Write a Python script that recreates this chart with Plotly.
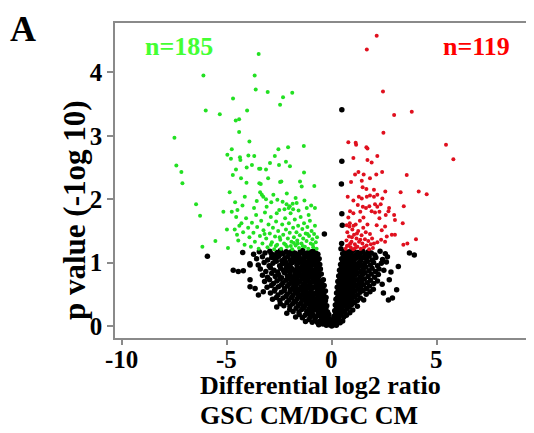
import plotly.graph_objects as go

# ---- data (log2 ratio, -log10 p) ----
green_points = [
    (-7.49, 2.97), (-7.40, 2.53), (-7.16, 2.43), (-7.11, 2.25), (-6.11, 3.95), (-6.00, 3.40),
    (-6.46, 1.92), (-6.27, 1.74), (-6.16, 1.25), (-5.54, 1.34), (-5.33, 3.34), (-5.16, 1.80),
    (-3.48, 4.29), (-3.67, 3.95), (-3.62, 3.73), (-3.05, 3.69), (-1.88, 3.68), (-2.32, 3.61),
    (-2.46, 3.49), (-4.70, 3.59), (-4.03, 3.40), (-4.57, 3.24), (-4.41, 3.26), (-4.41, 3.06),
    (-3.92, 2.91), (-4.76, 2.79), (-2.54, 2.79), (-2.08, 2.82), (-1.33, 2.84),
    (-4.97, 2.70), (-4.80, 2.64), (-4.37, 2.66), (-4.35, 2.62), (-3.97, 2.69), (-3.69, 2.68),
    (-4.71, 2.38), (-4.56, 2.47), (-4.05, 2.50), (-3.80, 2.54), (-3.46, 2.48), (-3.40, 2.48),
    (-3.13, 2.47), (-2.94, 2.57), (-2.71, 2.68), (-2.51, 2.54), (-2.18, 2.59), (-1.99, 2.52),
    (-4.32, 2.33), (-4.06, 2.26), (-3.45, 2.25), (-3.38, 2.24), (-2.46, 2.27), (-2.40, 2.28),
    (-3.03, 2.33), (-1.51, 2.28), (-1.43, 2.20), (-1.32, 2.42), (-4.86, 2.11), (-4.60, 1.95),
    (-4.49, 1.83), (-3.41, 2.11), (-3.33, 2.07), (-3.26, 2.04), (-3.13, 2.00), (-4.14, 2.04),
    (-3.57, 1.97), (-2.78, 2.07), (-2.59, 1.99), (-2.14, 2.09), (-2.15, 1.92), (-2.00, 1.89),
    (-1.86, 1.93), (-2.25, 1.84), (-2.05, 1.86), (-1.84, 1.84), (-1.67, 1.94), (-1.19, 1.86),
    (-0.80, 1.86), (-0.83, 2.21), (-4.76, 1.80), (-4.40, 1.58),
    (-4.62, 1.52), (-4.51, 1.44), (-4.45, 1.35), (-4.30, 1.62), (-4.22, 1.48), (-4.15, 1.28),
    (-4.08, 1.70), (-3.98, 1.55), (-3.92, 1.40), (-3.85, 1.25), (-3.80, 1.63), (-3.73, 1.47),
    (-3.66, 1.33), (-3.60, 1.75), (-3.55, 1.56), (-3.48, 1.22), (-3.42, 1.42), (-3.36, 1.66),
    (-3.30, 1.30), (-3.25, 1.51), (-3.18, 1.79), (-3.12, 1.38), (-3.06, 1.24), (-3.01, 1.60),
    (-2.95, 1.46), (-2.90, 1.72), (-2.85, 1.32), (-2.80, 1.55), (-2.74, 1.21), (-2.70, 1.41),
    (-2.65, 1.65), (-2.60, 1.28), (-2.55, 1.50), (-2.50, 1.83), (-2.45, 1.36), (-2.41, 1.22),
    (-2.36, 1.60), (-2.31, 1.44), (-2.27, 1.30), (-2.22, 1.70), (-2.18, 1.52), (-2.13, 1.25),
    (-2.09, 1.38), (-2.04, 1.62), (-2.00, 1.47), (-1.96, 1.78), (-1.92, 1.33), (-1.88, 1.21),
    (-1.84, 1.55), (-1.80, 1.40), (-1.76, 1.68), (-1.72, 1.27), (-1.68, 1.48), (-1.64, 1.35),
    (-1.60, 1.58), (-1.56, 1.23), (-1.52, 1.43), (-1.48, 1.72), (-1.44, 1.30), (-1.40, 1.53),
    (-1.36, 1.38), (-1.32, 1.62), (-1.28, 1.25), (-1.24, 1.46), (-1.20, 1.34), (-1.16, 1.56),
    (-1.12, 1.22), (-1.08, 1.42), (-1.04, 1.66), (-1.00, 1.30), (-0.96, 1.50), (-0.92, 1.37),
    (-0.88, 1.24), (-0.84, 1.45), (-0.80, 1.58), (-0.76, 1.32), (-0.72, 1.22), (-0.70, 1.40),
    (-4.94, 1.23), (-4.99, 1.52), (-4.55, 1.72), (-3.10, 1.88), (-2.88, 1.95), (-2.62, 1.78),
    (-1.58, 1.82), (-1.10, 1.75), (-0.98, 1.90), (-3.70, 1.86), (-4.25, 1.90), (-2.34, 1.96),
    (-1.30, 1.98), (-1.72, 2.02), (-2.20, 1.28), (-1.95, 1.26), (-1.62, 1.30), (-1.38, 1.26),
    (-2.66, 1.26), (-3.20, 1.45), (-2.48, 1.40), (-1.15, 1.45), (-0.90, 1.28), (-1.80, 1.31),
    (-2.90, 1.28),
]

red_points = [
    (2.14, 4.58), (1.67, 4.36), (2.44, 3.70), (2.97, 3.33), (3.81, 3.38), (2.46, 3.05),
    (5.44, 2.86), (5.79, 2.63), (0.79, 2.90), (1.14, 2.89), (1.16, 2.86), (1.65, 2.82),
    (1.70, 2.80), (2.17, 2.68), (1.03, 2.65), (1.70, 2.62), (1.90, 2.58), (1.11, 2.39),
    (1.27, 2.43), (1.52, 2.39), (2.12, 2.39), (2.40, 2.43), (3.57, 2.38), (0.92, 2.27),
    (1.43, 2.29), (1.82, 2.33), (1.47, 2.19), (1.65, 2.16), (2.01, 2.15), (2.55, 2.12),
    (3.28, 2.11), (4.14, 2.12), (4.52, 2.08), (0.76, 2.04), (1.03, 1.98), (1.29, 2.04),
    (1.43, 2.01), (1.67, 2.04), (1.82, 2.06), (2.01, 2.04), (2.17, 2.07), (2.41, 2.01),
    (1.24, 1.91), (1.48, 1.88), (1.63, 1.86), (1.79, 1.89), (2.06, 1.92), (2.17, 1.88),
    (2.33, 1.92), (2.73, 1.86), (2.70, 1.81), (3.43, 1.89), (0.87, 1.81), (1.03, 1.78),
    (1.36, 1.80), (1.51, 1.71), (1.90, 1.81), (2.06, 1.79), (2.27, 1.80), (2.27, 1.70),
    (2.57, 1.75), (2.97, 1.75), (3.01, 1.67), (3.38, 1.62), (0.79, 1.71), (0.71, 1.59),
    (0.84, 1.57), (2.14, 1.59), (2.38, 1.51), (2.54, 1.57), (2.62, 1.41), (2.86, 1.44),
    (3.01, 1.44), (2.35, 1.36), (2.54, 1.33), (3.41, 1.28), (3.60, 1.30), (4.01, 1.37),
    (2.01, 1.30), (2.17, 1.32),
    (0.66, 1.22), (0.70, 1.35), (0.74, 1.48), (0.78, 1.27), (0.82, 1.41), (0.86, 1.62),
    (0.90, 1.24), (0.94, 1.33), (0.98, 1.52), (1.02, 1.21), (1.06, 1.44), (1.10, 1.29),
    (1.14, 1.60), (1.18, 1.38), (1.22, 1.25), (1.26, 1.50), (1.30, 1.33), (1.34, 1.66),
    (1.38, 1.22), (1.42, 1.43), (1.46, 1.30), (1.50, 1.55), (1.54, 1.24), (1.58, 1.37),
    (1.62, 1.48), (1.66, 1.27), (1.70, 1.60), (1.74, 1.34), (1.78, 1.21), (1.82, 1.45),
    (1.86, 1.29), (1.92, 1.38), (1.96, 1.23), (0.72, 1.26), (0.96, 1.40), (1.20, 1.46),
    (1.04, 1.58), (0.88, 1.30), (1.12, 1.23), (1.36, 1.36),
]

black_points = [
    # outliers
    (-5.92, 1.10), (-4.24, 1.16), (-3.89, 0.96), (0.48, 3.41), (0.48, 2.60), (0.46, 2.24),
    (0.48, 1.77), (0.50, 1.59), (-0.35, 1.45), (0.47, 1.30), (0.44, 1.22),
    # left arm
    (-3.72, 1.13), (-3.45, 1.17), (-3.18, 1.15), (-2.95, 1.18), (-2.78, 1.12), (-2.60, 1.16),
    (-2.44, 1.19), (-2.31, 1.14), (-2.17, 1.17), (-2.02, 1.13), (-1.90, 1.18), (-1.76, 1.15),
    (-1.63, 1.12), (-1.50, 1.17), (-1.38, 1.19), (-1.25, 1.14), (-1.12, 1.16), (-1.00, 1.12),
    (-0.88, 1.18), (-0.76, 1.15), (-0.66, 1.13), (-2.88, 1.14), (-1.84, 1.12), (-1.30, 1.13),
    (-0.95, 1.17),
    (-3.58, 1.06), (-3.30, 1.09), (-3.05, 1.04), (-2.86, 1.08), (-2.70, 1.05), (-2.52, 1.10),
    (-2.38, 1.03), (-2.24, 1.07), (-2.10, 1.09), (-1.97, 1.04), (-1.83, 1.08), (-1.70, 1.06),
    (-1.57, 1.10), (-1.44, 1.03), (-1.32, 1.07), (-1.19, 1.09), (-1.06, 1.05), (-0.94, 1.08),
    (-0.82, 1.04), (-0.70, 1.09), (-0.60, 1.06), (-2.62, 1.08), (-1.48, 1.06), (-0.88, 1.10),
    (-3.90, 0.98), (-3.50, 0.96), (-3.22, 1.00), (-2.98, 0.95), (-2.80, 0.99), (-2.64, 1.02),
    (-2.48, 0.95), (-2.34, 0.98), (-2.20, 1.01), (-2.06, 0.94), (-1.93, 0.99), (-1.80, 1.02),
    (-1.66, 0.96), (-1.54, 1.00), (-1.41, 0.94), (-1.28, 0.98), (-1.16, 1.01), (-1.03, 0.95),
    (-0.91, 0.99), (-0.79, 0.96), (-0.67, 1.01), (-0.57, 0.97), (-2.12, 0.97), (-1.23, 0.95),
    (-0.73, 0.94),
    (-4.69, 0.88), (-4.45, 0.86), (-4.21, 0.87), (-3.40, 0.90), (-3.14, 0.86), (-2.92, 0.92),
    (-2.75, 0.88), (-2.58, 0.85), (-2.43, 0.91), (-2.29, 0.87), (-2.15, 0.93), (-2.01, 0.86),
    (-1.88, 0.90), (-1.75, 0.85), (-1.62, 0.92), (-1.49, 0.88), (-1.36, 0.91), (-1.23, 0.86),
    (-1.11, 0.90), (-0.99, 0.93), (-0.87, 0.87), (-0.75, 0.91), (-0.64, 0.86), (-0.54, 0.90),
    (-1.95, 0.92), (-1.05, 0.86),
    (-3.89, 0.73), (-3.30, 0.80), (-3.06, 0.77), (-2.86, 0.83), (-2.69, 0.78), (-2.53, 0.81),
    (-2.39, 0.76), (-2.25, 0.84), (-2.11, 0.79), (-1.98, 0.82), (-1.85, 0.77), (-1.72, 0.81),
    (-1.59, 0.84), (-1.46, 0.78), (-1.34, 0.82), (-1.21, 0.76), (-1.09, 0.80), (-0.97, 0.83),
    (-0.85, 0.77), (-0.73, 0.81), (-0.62, 0.78), (-0.50, 0.82), (-1.66, 0.76), (-0.91, 0.84),
    (-3.20, 0.70), (-2.96, 0.73), (-2.78, 0.67), (-2.61, 0.71), (-2.46, 0.74), (-2.32, 0.68),
    (-2.18, 0.72), (-2.04, 0.66), (-1.91, 0.70), (-1.78, 0.73), (-1.65, 0.67), (-1.52, 0.71),
    (-1.40, 0.74), (-1.28, 0.68), (-1.16, 0.72), (-1.04, 0.66), (-0.92, 0.70), (-0.81, 0.73),
    (-0.70, 0.67), (-0.59, 0.71), (-0.48, 0.68), (-0.40, 0.73), (-2.08, 0.74), (-1.33, 0.66),
    (-3.89, 0.62), (-3.65, 0.59), (-3.08, 0.61), (-2.88, 0.64), (-2.70, 0.58), (-2.54, 0.62),
    (-2.39, 0.65), (-2.25, 0.59), (-2.11, 0.63), (-1.97, 0.57), (-1.84, 0.61), (-1.71, 0.64),
    (-1.58, 0.58), (-1.46, 0.62), (-1.34, 0.65), (-1.22, 0.59), (-1.10, 0.63), (-0.98, 0.57),
    (-0.87, 0.61), (-0.76, 0.64), (-0.65, 0.58), (-0.54, 0.62), (-0.44, 0.60), (-0.36, 0.64),
    (-3.49, 0.49), (-3.26, 0.54), (-2.92, 0.52), (-2.73, 0.55), (-2.56, 0.49), (-2.40, 0.53),
    (-2.26, 0.56), (-2.12, 0.50), (-1.98, 0.54), (-1.85, 0.48), (-1.72, 0.52), (-1.59, 0.55),
    (-1.47, 0.49), (-1.35, 0.53), (-1.23, 0.56), (-1.11, 0.50), (-1.00, 0.54), (-0.89, 0.48),
    (-0.78, 0.52), (-0.68, 0.55), (-0.58, 0.49), (-0.48, 0.53), (-0.38, 0.51), (-0.30, 0.55),
    (-2.82, 0.42), (-2.64, 0.45), (-2.47, 0.40), (-2.32, 0.44), (-2.18, 0.47), (-2.04, 0.41),
    (-1.91, 0.45), (-1.78, 0.39), (-1.65, 0.43), (-1.53, 0.46), (-1.41, 0.40), (-1.29, 0.44),
    (-1.17, 0.47), (-1.06, 0.41), (-0.95, 0.45), (-0.84, 0.39), (-0.74, 0.43), (-0.64, 0.46),
    (-0.54, 0.40), (-0.45, 0.44), (-0.36, 0.41), (-0.27, 0.45),
    (-2.62, 0.30), (-2.45, 0.35), (-2.28, 0.32), (-2.13, 0.37), (-1.99, 0.31), (-1.86, 0.35),
    (-1.73, 0.38), (-1.60, 0.32), (-1.48, 0.36), (-1.36, 0.30), (-1.24, 0.34), (-1.13, 0.37),
    (-1.02, 0.31), (-0.91, 0.35), (-0.81, 0.38), (-0.71, 0.32), (-0.61, 0.36), (-0.51, 0.30),
    (-0.42, 0.34), (-0.33, 0.37), (-0.24, 0.32),
    (-2.14, 0.20), (-2.00, 0.26), (-1.84, 0.23), (-1.70, 0.28), (-1.56, 0.22), (-1.43, 0.26),
    (-1.31, 0.29), (-1.19, 0.23), (-1.07, 0.27), (-0.96, 0.21), (-0.85, 0.25), (-0.75, 0.28),
    (-0.65, 0.22), (-0.55, 0.26), (-0.46, 0.29), (-0.37, 0.23), (-0.28, 0.27), (-0.20, 0.22),
    (-1.72, 0.14), (-1.55, 0.18), (-1.40, 0.13), (-1.27, 0.17), (-1.14, 0.20), (-1.02, 0.14),
    (-0.90, 0.18), (-0.79, 0.12), (-0.68, 0.16), (-0.58, 0.19), (-0.48, 0.13), (-0.39, 0.17),
    (-0.30, 0.20), (-0.22, 0.14), (-0.14, 0.18),
    (-1.25, 0.07), (-1.08, 0.10), (-0.93, 0.06), (-0.80, 0.09), (-0.67, 0.05), (-0.55, 0.08),
    (-0.44, 0.11), (-0.34, 0.06), (-0.25, 0.09), (-0.16, 0.05), (-0.08, 0.10),
    (-0.62, 0.02), (-0.42, 0.03), (-0.26, 0.01), (-0.12, 0.02), (0.00, 0.00), (0.10, 0.02),
    (0.22, 0.01),
    # extra fill of the dense core, left arm
    (-2.50, 1.12), (-2.05, 1.15), (-1.70, 1.13), (-1.42, 1.15), (-1.18, 1.11), (-0.82, 1.12),
    (-2.30, 1.01), (-1.88, 1.00), (-1.60, 1.03), (-1.35, 1.01), (-1.10, 1.02), (-0.85, 1.02),
    (-2.20, 0.89), (-1.80, 0.88), (-1.55, 0.86), (-1.30, 0.88), (-1.00, 0.88), (-0.70, 0.86),
    (-2.00, 0.78), (-1.78, 0.78), (-1.52, 0.80), (-1.25, 0.79), (-1.02, 0.77), (-0.78, 0.75),
    (-1.85, 0.68), (-1.58, 0.69), (-1.22, 0.70), (-0.98, 0.69), (-0.75, 0.70), (-0.53, 0.66),
    (-1.76, 0.57), (-1.40, 0.58), (-1.16, 0.60), (-0.92, 0.60), (-0.70, 0.61), (-0.48, 0.58),
    (-1.58, 0.48), (-1.30, 0.50), (-1.05, 0.48), (-0.84, 0.50), (-0.63, 0.51), (-0.42, 0.48),
    (-1.20, 0.39), (-0.99, 0.38), (-0.78, 0.41), (-0.58, 0.38), (-0.40, 0.39), (-0.30, 0.40),
    (-0.90, 0.29), (-0.70, 0.30), (-0.50, 0.24), (-0.33, 0.29), (-0.15, 0.12), (-0.05, 0.06),
    # right arm
    (0.52, 1.14), (0.62, 1.18), (0.72, 1.13), (0.82, 1.17), (0.92, 1.15), (1.02, 1.19),
    (1.13, 1.12), (1.24, 1.16), (1.36, 1.14), (1.48, 1.18), (1.60, 1.13), (1.74, 1.17),
    (1.88, 1.15), (2.05, 1.12), (2.30, 1.18), (2.55, 1.14), (3.70, 1.15), (3.93, 1.12),
    (0.47, 1.06), (0.56, 1.09), (0.65, 1.04), (0.75, 1.08), (0.85, 1.05), (0.95, 1.10),
    (1.05, 1.03), (1.16, 1.07), (1.27, 1.09), (1.39, 1.04), (1.51, 1.08), (1.64, 1.06),
    (1.78, 1.10), (1.93, 1.04), (2.10, 1.08), (2.42, 1.05), (2.65, 1.09),
    (0.42, 0.97), (0.51, 1.01), (0.60, 0.95), (0.70, 0.99), (0.80, 1.02), (0.90, 0.96),
    (1.00, 1.00), (1.11, 0.94), (1.22, 0.98), (1.33, 1.01), (1.45, 0.95), (1.57, 0.99),
    (1.70, 1.02), (1.84, 0.96), (1.99, 1.00), (2.18, 0.95), (2.36, 0.99), (2.60, 1.01),
    (3.17, 0.94),
    (0.37, 0.88), (0.46, 0.91), (0.55, 0.86), (0.64, 0.90), (0.74, 0.93), (0.84, 0.87),
    (0.94, 0.91), (1.04, 0.85), (1.15, 0.89), (1.26, 0.92), (1.38, 0.86), (1.50, 0.90),
    (1.63, 0.93), (1.77, 0.87), (1.92, 0.91), (2.08, 0.86), (2.25, 0.90), (2.48, 0.88),
    (2.82, 0.85),
    (0.33, 0.79), (0.42, 0.82), (0.51, 0.77), (0.60, 0.81), (0.70, 0.84), (0.80, 0.78),
    (0.90, 0.82), (1.00, 0.76), (1.11, 0.80), (1.22, 0.83), (1.34, 0.77), (1.46, 0.81),
    (1.59, 0.84), (1.73, 0.78), (1.88, 0.82), (2.04, 0.77), (2.22, 0.81), (2.74, 0.73),
    (0.29, 0.70), (0.38, 0.73), (0.47, 0.67), (0.56, 0.71), (0.66, 0.74), (0.76, 0.68),
    (0.86, 0.72), (0.96, 0.66), (1.07, 0.70), (1.18, 0.73), (1.30, 0.67), (1.42, 0.71),
    (1.55, 0.74), (1.69, 0.68), (1.84, 0.72), (2.00, 0.67), (2.18, 0.71), (2.40, 0.66),
    (0.26, 0.61), (0.34, 0.64), (0.43, 0.58), (0.52, 0.62), (0.62, 0.65), (0.72, 0.59),
    (0.82, 0.63), (0.92, 0.57), (1.03, 0.61), (1.14, 0.64), (1.26, 0.58), (1.38, 0.62),
    (1.51, 0.65), (1.65, 0.59), (1.80, 0.63), (1.98, 0.58), (3.09, 0.57),
    (0.23, 0.52), (0.31, 0.55), (0.40, 0.49), (0.49, 0.53), (0.58, 0.56), (0.68, 0.50),
    (0.78, 0.54), (0.88, 0.48), (0.99, 0.52), (1.10, 0.55), (1.22, 0.49), (1.35, 0.53),
    (1.49, 0.56), (1.64, 0.50), (1.82, 0.54), (2.46, 0.52),
    (0.20, 0.42), (0.28, 0.45), (0.37, 0.40), (0.46, 0.44), (0.55, 0.47), (0.65, 0.41),
    (0.75, 0.45), (0.86, 0.39), (0.97, 0.43), (1.09, 0.46), (1.22, 0.40), (1.36, 0.44),
    (1.52, 0.41), (2.70, 0.41), (2.89, 0.44),
    (0.17, 0.33), (0.25, 0.36), (0.34, 0.31), (0.43, 0.35), (0.52, 0.38), (0.62, 0.32),
    (0.72, 0.36), (0.83, 0.30), (0.95, 0.34), (1.08, 0.37), (1.22, 0.31),
    (0.14, 0.24), (0.22, 0.27), (0.31, 0.22), (0.40, 0.26), (0.50, 0.29), (0.61, 0.23),
    (0.73, 0.27), (0.86, 0.21), (1.00, 0.25),
    (0.10, 0.15), (0.18, 0.18), (0.27, 0.13), (0.36, 0.17), (0.46, 0.20), (0.57, 0.14),
    (0.70, 0.17),
    (0.05, 0.07), (0.13, 0.10), (0.21, 0.06), (0.30, 0.09), (0.40, 0.05), (0.52, 0.08),
    # extra fill of the dense core, right arm
    (0.58, 1.11), (0.88, 1.12), (1.18, 1.10), (0.68, 1.01), (0.98, 1.05), (1.30, 0.96),
    (0.50, 0.84), (0.78, 0.89), (1.08, 0.93), (0.45, 0.73), (0.74, 0.77), (1.02, 0.84),
    (0.40, 0.63), (0.66, 0.69), (0.95, 0.75), (0.36, 0.57), (0.64, 0.60), (0.90, 0.66),
    (0.33, 0.47), (0.60, 0.52), (0.82, 0.57), (0.30, 0.38), (0.50, 0.42), (0.68, 0.47),
    (0.26, 0.30), (0.45, 0.31), (0.20, 0.20), (0.38, 0.22), (0.16, 0.11), (0.33, 0.13),
]

x_ticks = [-10, -5, 0, 5]
x_tick_labels = ["-10", "-5", "0", "5"]
y_ticks = [0, 1, 2, 3, 4]
n_down_label = "n=185"
n_up_label = "n=119"

FONT = "Liberation Serif"

def xs(pts):
    return [p[0] for p in pts]

def ys(pts):
    return [p[1] for p in pts]

fig = go.Figure()
fig.add_trace(go.Scatter(x=xs(black_points), y=ys(black_points), mode="markers",
                         marker=dict(color="black", size=5.5), hoverinfo="skip"))
fig.add_trace(go.Scatter(x=xs(green_points), y=ys(green_points), mode="markers",
                         marker=dict(color="#22e022", size=4), hoverinfo="skip"))
fig.add_trace(go.Scatter(x=xs(red_points), y=ys(red_points), mode="markers",
                         marker=dict(color="#e0101e", size=4), hoverinfo="skip"))

# the page body adds an 8 px offset; layout numbers below are in window pixels
OFF = 8
W, H = 534, 433
ml = 115 - OFF
mt = 23 - OFF
mr = OFF
mb = H - (338 - OFF)
pw, ph = W - ml - mr, H - mt - mb

def px_x(p):
    return (p - OFF - ml) / pw

def px_y(p):
    return (H - mb - (p - OFF)) / ph

tick_font = dict(family=FONT, size=25, weight="bold", color="black")
fig.update_layout(
    width=W, height=H,
    margin=dict(l=ml, r=mr, t=mt, b=mb, pad=0, autoexpand=False),
    paper_bgcolor="white", plot_bgcolor="white",
    showlegend=False,
    font=dict(family=FONT, color="black"),
    xaxis=dict(range=[-10.32, 9.63], tickvals=x_ticks, showticklabels=False,
               automargin=False,
               showgrid=False, zeroline=False, showline=True, linecolor="#8a8a8a", linewidth=1.5,
               mirror=True, ticks="outside", ticklen=5, tickwidth=1.5, tickcolor="#8a8a8a"),
    yaxis=dict(range=[-0.19, 4.78], tickvals=y_ticks, automargin=False,
               showgrid=False, zeroline=False, showline=True, linecolor="#8a8a8a", linewidth=1.5,
               mirror=False, ticks="outside", ticklen=6, tickwidth=1.5, tickcolor="#8a8a8a",
               tickfont=tick_font),
)

ann = []
for v, lab in zip(x_ticks, x_tick_labels):
    ann.append(dict(text=lab, x=v, xref="x", y=px_y(359), yref="paper",
                    xanchor="center", yanchor="middle", showarrow=False, font=tick_font))

ann += [
    dict(text="A", x=px_x(8), y=px_y(7), xanchor="left", yanchor="top",
         font=dict(family=FONT, size=36, weight="bold", color="black")),
    dict(text=n_down_label, x=px_x(143), y=px_y(47), xanchor="left", yanchor="middle",
         font=dict(family=FONT, size=26, weight="bold", color="#44ff33")),
    dict(text=n_up_label, x=px_x(441), y=px_y(47), xanchor="left", yanchor="middle",
         font=dict(family=FONT, size=26, weight="bold", color="#ff0000")),
    dict(text="p value (-1og 10)", x=px_x(74), y=px_y(210), textangle=-90,
         xanchor="center", yanchor="middle",
         font=dict(family=FONT, size=31, weight="bold", color="black")),
    dict(text="Differential log2 ratio", x=px_x(198), y=px_y(386), xanchor="left", yanchor="middle",
         font=dict(family=FONT, size=26, weight="bold", color="black")),
    dict(text="GSC CM/DGC CM", x=px_x(198), y=px_y(415), xanchor="left", yanchor="middle",
         font=dict(family=FONT, size=26, weight="bold", color="black")),
]
for a in ann:
    a.setdefault("xref", "paper")
    a.setdefault("yref", "paper")
    a["showarrow"] = False
fig.update_layout(annotations=ann)

fig.write_html("out.html")
